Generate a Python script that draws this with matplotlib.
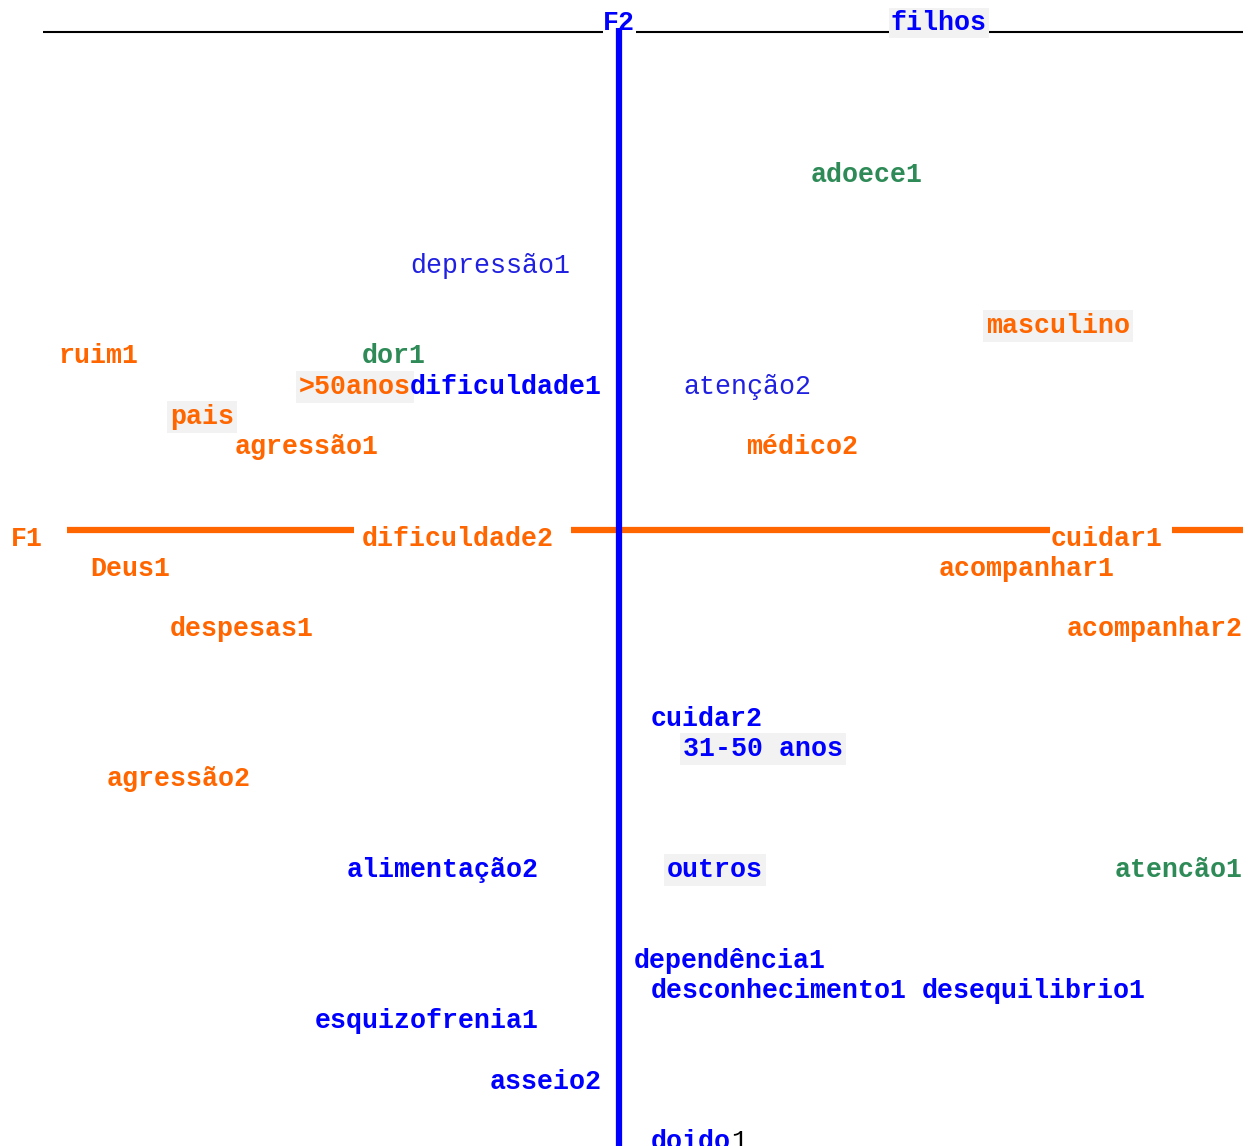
import matplotlib
matplotlib.use("Agg")
import matplotlib.pyplot as plt

# label positions in plot pixels (left edge, vertical centre)
labels = ["adoece1", "depressão1", "masculino", "ruim1", "dor1", ">50anos",
          "dificuldade1", "atenção2", "pais", "agressão1", "médico2",
          "dificuldade2", "cuidar1", "Deus1", "acompanhar1", "despesas1",
          "acompanhar2", "cuidar2", "31-50 anos", "agressão2", "alimentação2",
          "outros", "atencão1", "dependência1", "desconhecimento1",
          "desequilibrio1", "esquizofrenia1", "asseio2", "doido"]
xs = [811, 410, 986, 58, 362, 299, 410, 683, 170, 235, 746, 362, 1051, 90,
      939, 170, 1067, 651, 683, 107, 347, 667, 1115, 634, 651, 922, 315, 490, 651]
ys = [175, 266, 326, 356, 356, 387, 387, 387, 417, 447, 447, 539, 539, 569,
      569, 629, 629, 719, 749, 779, 870, 870, 870, 961, 991, 991, 1021, 1082, 1142]
groups = ["g", "bn", "o", "o", "g", "o", "b", "bn", "o", "o", "o", "o", "o", "o",
          "o", "o", "o", "b", "b", "o", "b", "b", "g", "b", "b", "b", "b", "b", "b"]
shaded = ["masculino", ">50anos", "pais", "31-50 anos", "outros", "filhos"]

ORANGE = "#ff6600"
GREEN = "#2e8b57"
BLUE = "#0000ff"
BLUE2 = "#2020e0"
colors = {"o": ORANGE, "g": GREEN, "b": BLUE, "bn": BLUE2}

W, H = 1259, 1146
fig = plt.figure(figsize=(W / 100, H / 100), dpi=100)
ax = fig.add_axes([0, 0, 1, 1])
ax.set_xlim(0, W)
ax.set_ylim(H, 0)
ax.axis("off")

FONT = "Liberation Mono"
FS = 19.2

# top ruler (underscores) with F2 and filhos
for a, b in [(43, 603), (636, 891), (987, 1243)]:
    ax.plot([a, b], [32, 32], color="black", lw=1.5, solid_capstyle="butt")
ax.text(603, 23, "F2", color=BLUE, fontsize=FS, family=FONT, weight="bold", va="center")
ax.text(891, 23, "filhos", color=BLUE, fontsize=FS, family=FONT, weight="bold", va="center",
        bbox=dict(boxstyle="square,pad=0.08", fc="#f2f2f2", ec="none"))

# axes
for a, b in [(67, 354), (571, 1050), (1172, 1243)]:
    ax.plot([a, b], [530, 530], color=ORANGE, lw=4.5, solid_capstyle="butt")
ax.plot([619, 619], [28, H], color=BLUE, lw=4.5, solid_capstyle="butt")
ax.text(11, 539, "F1", color=ORANGE, fontsize=FS, family=FONT, weight="bold", va="center")

for lab, x, y, g in zip(labels, xs, ys, groups):
    kw = {}
    if lab in shaded:
        kw["bbox"] = dict(boxstyle="square,pad=0.1", fc="#f2f2f2", ec="none")
    ax.text(x, y, lab, color=colors[g], fontsize=FS, family=FONT,
            weight="normal" if g == "bn" else "bold", va="center", **kw)

# trailing "1" of doido1 in plain black
ax.text(651 + 16 * 5, 1142, "1", color="black", fontsize=FS, family=FONT, va="center")

fig.savefig("out.png", dpi=100)
